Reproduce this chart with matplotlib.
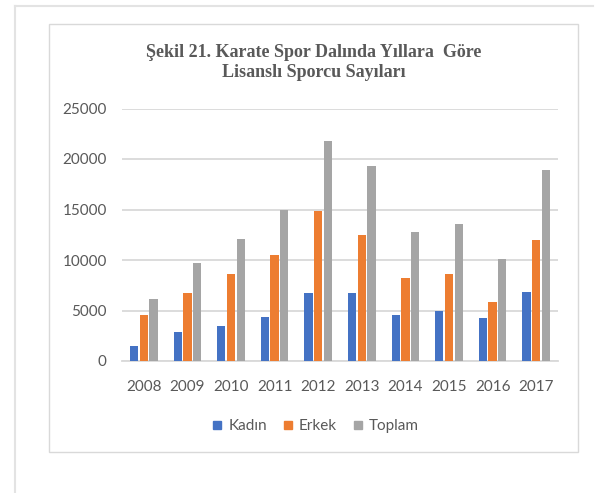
import matplotlib.pyplot as plt
import numpy as np
from matplotlib.lines import Line2D
from matplotlib.patches import Rectangle

years = ["2008", "2009", "2010", "2011", "2012", "2013", "2014", "2015", "2016", "2017"]
kadin = [1520, 2870, 3500, 4320, 6770, 6770, 4520, 4980, 4220, 6860]
erkek = [4520, 6770, 8580, 10530, 14850, 12470, 8180, 8580, 5840, 11950]
toplam = [6100, 9670, 12110, 14950, 21780, 19340, 12770, 13600, 10130, 18880]

series_names = ["Kadın", "Erkek", "Toplam"]
colors = ["#4472C4", "#ED7D31", "#A5A5A5"]

W, H = 603, 493
fig = plt.figure(figsize=(W / 100, H / 100), dpi=100)
fig.patch.set_facecolor("white")

# outer page lines and chart frame
fig.add_artist(Line2D([15 / W, 15 / W], [0, 1 - 6 / H], color="#E3E3E3", lw=1.5))
fig.add_artist(Line2D([15 / W, 593 / W], [1 - 6 / H, 1 - 6 / H], color="#E3E3E3", lw=1.5))
fig.add_artist(Rectangle((49 / W, 1 - 452 / H), (578 - 49) / W, (452 - 24) / H,
                         fill=False, edgecolor="#D9D9D9", lw=1.0))

ax = fig.add_axes([122 / W, 1 - 361 / H, 436 / W, 252.5 / H])
x = np.arange(len(years))
bw = 0.19
off = 0.222
for i, (vals, c, name) in enumerate(zip([kadin, erkek, toplam], colors, series_names)):
    ax.bar(x + (i - 1) * off, vals, width=bw, color=c, label=name, zorder=3)

ax.set_xlim(-0.5, len(years) - 0.5)
ax.set_ylim(0, 25000)
ax.set_yticks(range(0, 25001, 5000))
ax.set_xticks(x)
ax.set_xticklabels(years)
ax.grid(axis="y", color="#D9D9D9", lw=1.3, zorder=0)
ax.set_axisbelow(True)
for s in ["top", "right", "left"]:
    ax.spines[s].set_visible(False)
ax.spines["bottom"].set_color("#D9D9D9")
ax.spines["bottom"].set_linewidth(1.3)
ax.tick_params(length=0, labelsize=11, labelcolor="#595959", labelfontfamily="Lato")
ax.tick_params(axis="y", pad=11)
ax.tick_params(axis="x", pad=14)

fig.text(313.5 / W, 1 - 62.5 / H, "Şekil 21. Karate Spor Dalında Yıllara  Göre\nLisanslı Sporcu Sayıları",
         ha="center", va="center", fontsize=13, fontweight="bold",
         family="Liberation Serif", color="#595959", linespacing=1.25)

handles = [Line2D([], [], marker="s", ls="none", markersize=6, color=c) for c in colors]
fig.legend(handles, series_names, loc="center", bbox_to_anchor=(316 / W, 1 - 426 / H),
           ncol=3, frameon=False, handlelength=0.6, handletextpad=0.4, columnspacing=1.1,
           prop={"family": "Lato", "size": 11}, labelcolor="#595959")

fig.savefig("out.png", dpi=100)
